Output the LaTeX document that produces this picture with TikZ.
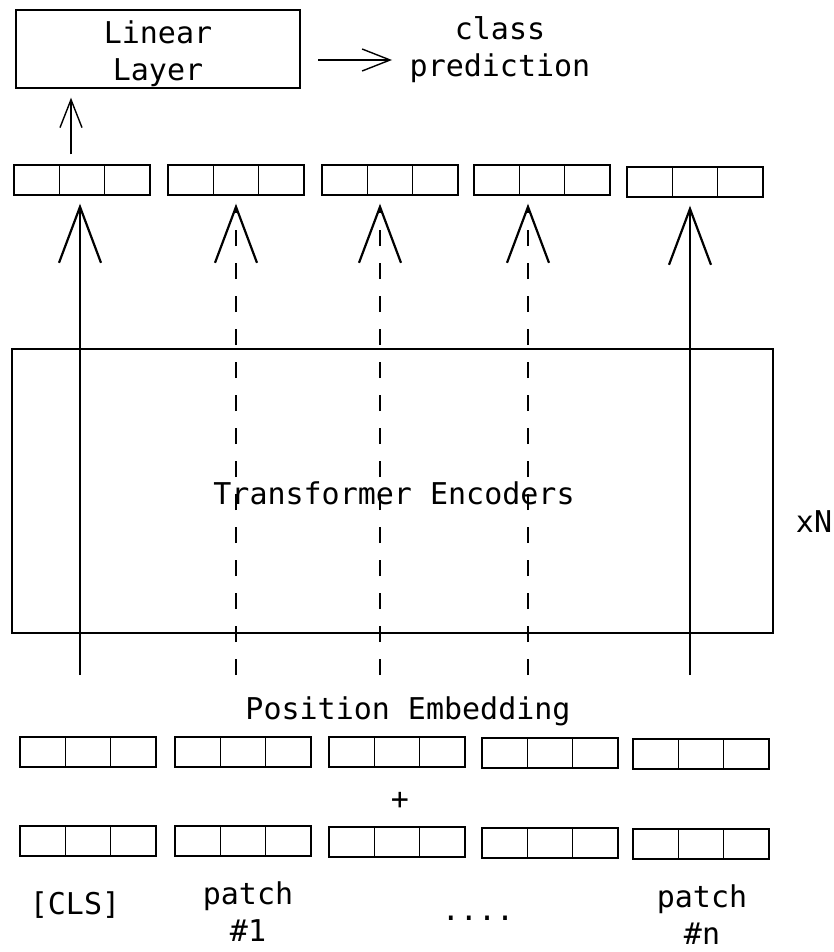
\documentclass[tikz,border=0pt]{standalone}
\usepackage{fontspec}
\setmonofont{DejaVu Sans Mono}
\usetikzlibrary{arrows.meta,calc}

\begin{document}
\begin{tikzpicture}[x=1pt,y=-1pt,
  every node/.style={font=\ttfamily\fontsize{30}{37}\selectfont, align=center},
  vec/.style={draw, line width=1.4pt, minimum width=136pt, minimum height=30pt,
    inner sep=0pt,
    path picture={
      \foreach \f in {1,2}{
        \draw[line width=1.6pt]
          ($(path picture bounding box.south west)!\f/3!(path picture bounding box.south east)$) --
          ($(path picture bounding box.north west)!\f/3!(path picture bounding box.north east)$);
      }}},
  blk/.style={draw, line width=1.4pt, inner sep=0pt},
  bigtip/.style={-{Straight Barb[length=56pt,width=42pt,line width=2.2pt]}},
  smalltip/.style={-{Straight Barb[length=28pt,width=22pt,line width=1.4pt]}},
  solidflow/.style={line width=1.4pt, bigtip, shorten >=8pt},
  dashflow/.style={line width=2.6pt, dash pattern=on 16pt off 17pt, bigtip, shorten >=8pt},
]
\useasboundingbox (0,0) rectangle (833,952);

% classification head
\node[blk, minimum width=284pt, minimum height=78pt] (lin) at (158,49) {};
\node (lintxt) at (158,54) {Linear\\Layer};
\node (cls) at (500,50) {class\\prediction};
\draw[line width=1.4pt, smalltip] (318,60) coordinate (c0) -- (c0 -| 392,0) coordinate (c1);

% encoder outputs
\node[vec] (t1) at (82,180) {};
\node[vec] (t2) at (236,180) {};
\node[vec] (t3) at (390,180) {};
\node[vec] (t4) at (542,180) {};
\node[vec] (t5) at (695,182) {};

\draw[line width=1.4pt, smalltip, shorten <=10pt, shorten >=9pt]
  ([xshift=-11pt]t1.north) -- ([xshift=-11pt]t1.north |- lin.south);

% transformer encoder stack
\node[blk, minimum width=761pt, minimum height=284pt] (enc) at (392.5,491) {};
\node (enctxt) at (394,493) {Transformer Encoders};
\node (rep) at (814,522) {xN};

% token streams through the encoder
\coordinate (s1) at (80,675);
\coordinate (s2) at (236,675);
\coordinate (s3) at (380,675);
\coordinate (s4) at (528,675);
\coordinate (s5) at (690,675);
\draw[solidflow] (s1) -- (s1 |- t1.south);
\draw[dashflow] (s2) -- (s2 |- t2.south);
\draw[dashflow] (s3) -- (s3 |- t3.south);
\draw[dashflow] (s4) -- (s4 |- t4.south);
\draw[solidflow] (s5) -- (s5 |- t5.south);

% position embeddings
\node (pos) at (408,711) {Position Embedding};
\node[vec] (p1) at (88,752) {};
\node[vec] (p2) at (243,752) {};
\node[vec] (p3) at (397,752) {};
\node[vec] (p4) at (550,753) {};
\node[vec] (p5) at (701,754) {};

\node (plus) at (400,801) {+};

% patch embeddings
\node[vec] (e1) at (88,841) {};
\node[vec] (e2) at (243,841) {};
\node[vec] (e3) at (397,842) {};
\node[vec] (e4) at (550,843) {};
\node[vec] (e5) at (701,844) {};

\node (l1) at (75,905) {[CLS]};
\node (l2) at (248,912) {patch\\\#1};
\node (l3) at (478,918) {....};
\node (l5) at (702,915) {patch\\\#n};
\end{tikzpicture}
\end{document}
